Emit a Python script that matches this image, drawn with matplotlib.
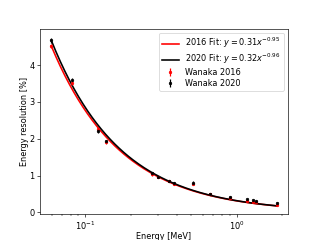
import numpy as np
import matplotlib
matplotlib.use('Agg')
import matplotlib.pyplot as plt

# gamma line energies [MeV]
energy = [0.0595, 0.081, 0.122, 0.136, 0.276, 0.303, 0.356, 0.384,
          0.511, 0.662, 0.898, 1.173, 1.275, 1.333, 1.836]

res_2016 = [4.52, 3.52, 2.27, 1.91, 1.03, 0.97, 0.85, 0.77,
            0.76, 0.49, 0.39, 0.31, 0.28, 0.28, 0.21]
err_2016 = [0.06, 0.06, 0.05, 0.04, 0.03, 0.03, 0.03, 0.03,
            0.03, 0.02, 0.02, 0.02, 0.02, 0.02, 0.02]

res_2020 = [4.68, 3.60, 2.22, 1.93, 1.06, 0.97, 0.85, 0.80,
            0.81, 0.50, 0.41, 0.35, 0.34, 0.32, 0.26]
err_2020 = [0.07, 0.06, 0.05, 0.04, 0.03, 0.03, 0.03, 0.03,
            0.03, 0.02, 0.02, 0.02, 0.02, 0.02, 0.02]

# power-law fit parameters y = a*x^b (legend shows rounded values)
fit_2016 = (0.310, -0.950)
fit_2020 = (0.315, -0.956)

fig = plt.figure(figsize=(5.5, 4.125), dpi=320/5.5)
ax = fig.add_subplot(1, 1, 1)

xf = np.geomspace(min(energy), max(energy), 200)
ax.plot(xf, fit_2016[0]*xf**fit_2016[1], color='r', lw=2,
        label='2016 Fit: $y = 0.31x^{-0.95}$')
ax.plot(xf, fit_2020[0]*xf**fit_2020[1], color='k', lw=2,
        label='2020 Fit: $y = 0.32x^{-0.96}$')
ax.errorbar(energy, res_2016, yerr=err_2016, fmt='.', color='r',
            ms=6, elinewidth=1.5, label='Wanaka 2016')
ax.errorbar(energy, res_2020, yerr=err_2020, fmt='.', color='k',
            ms=6, elinewidth=1.5, label='Wanaka 2020')

ax.set_xscale('log')
ax.set_ylim(-0.035, 4.99)
ax.set_xlabel('Energy [MeV]', labelpad=0.5)
ax.set_ylabel('Energy resolution [%]', labelpad=0.5)
ax.legend(loc='upper right', labelspacing=0.2)

fig.savefig('out.png', dpi=320/5.5)
